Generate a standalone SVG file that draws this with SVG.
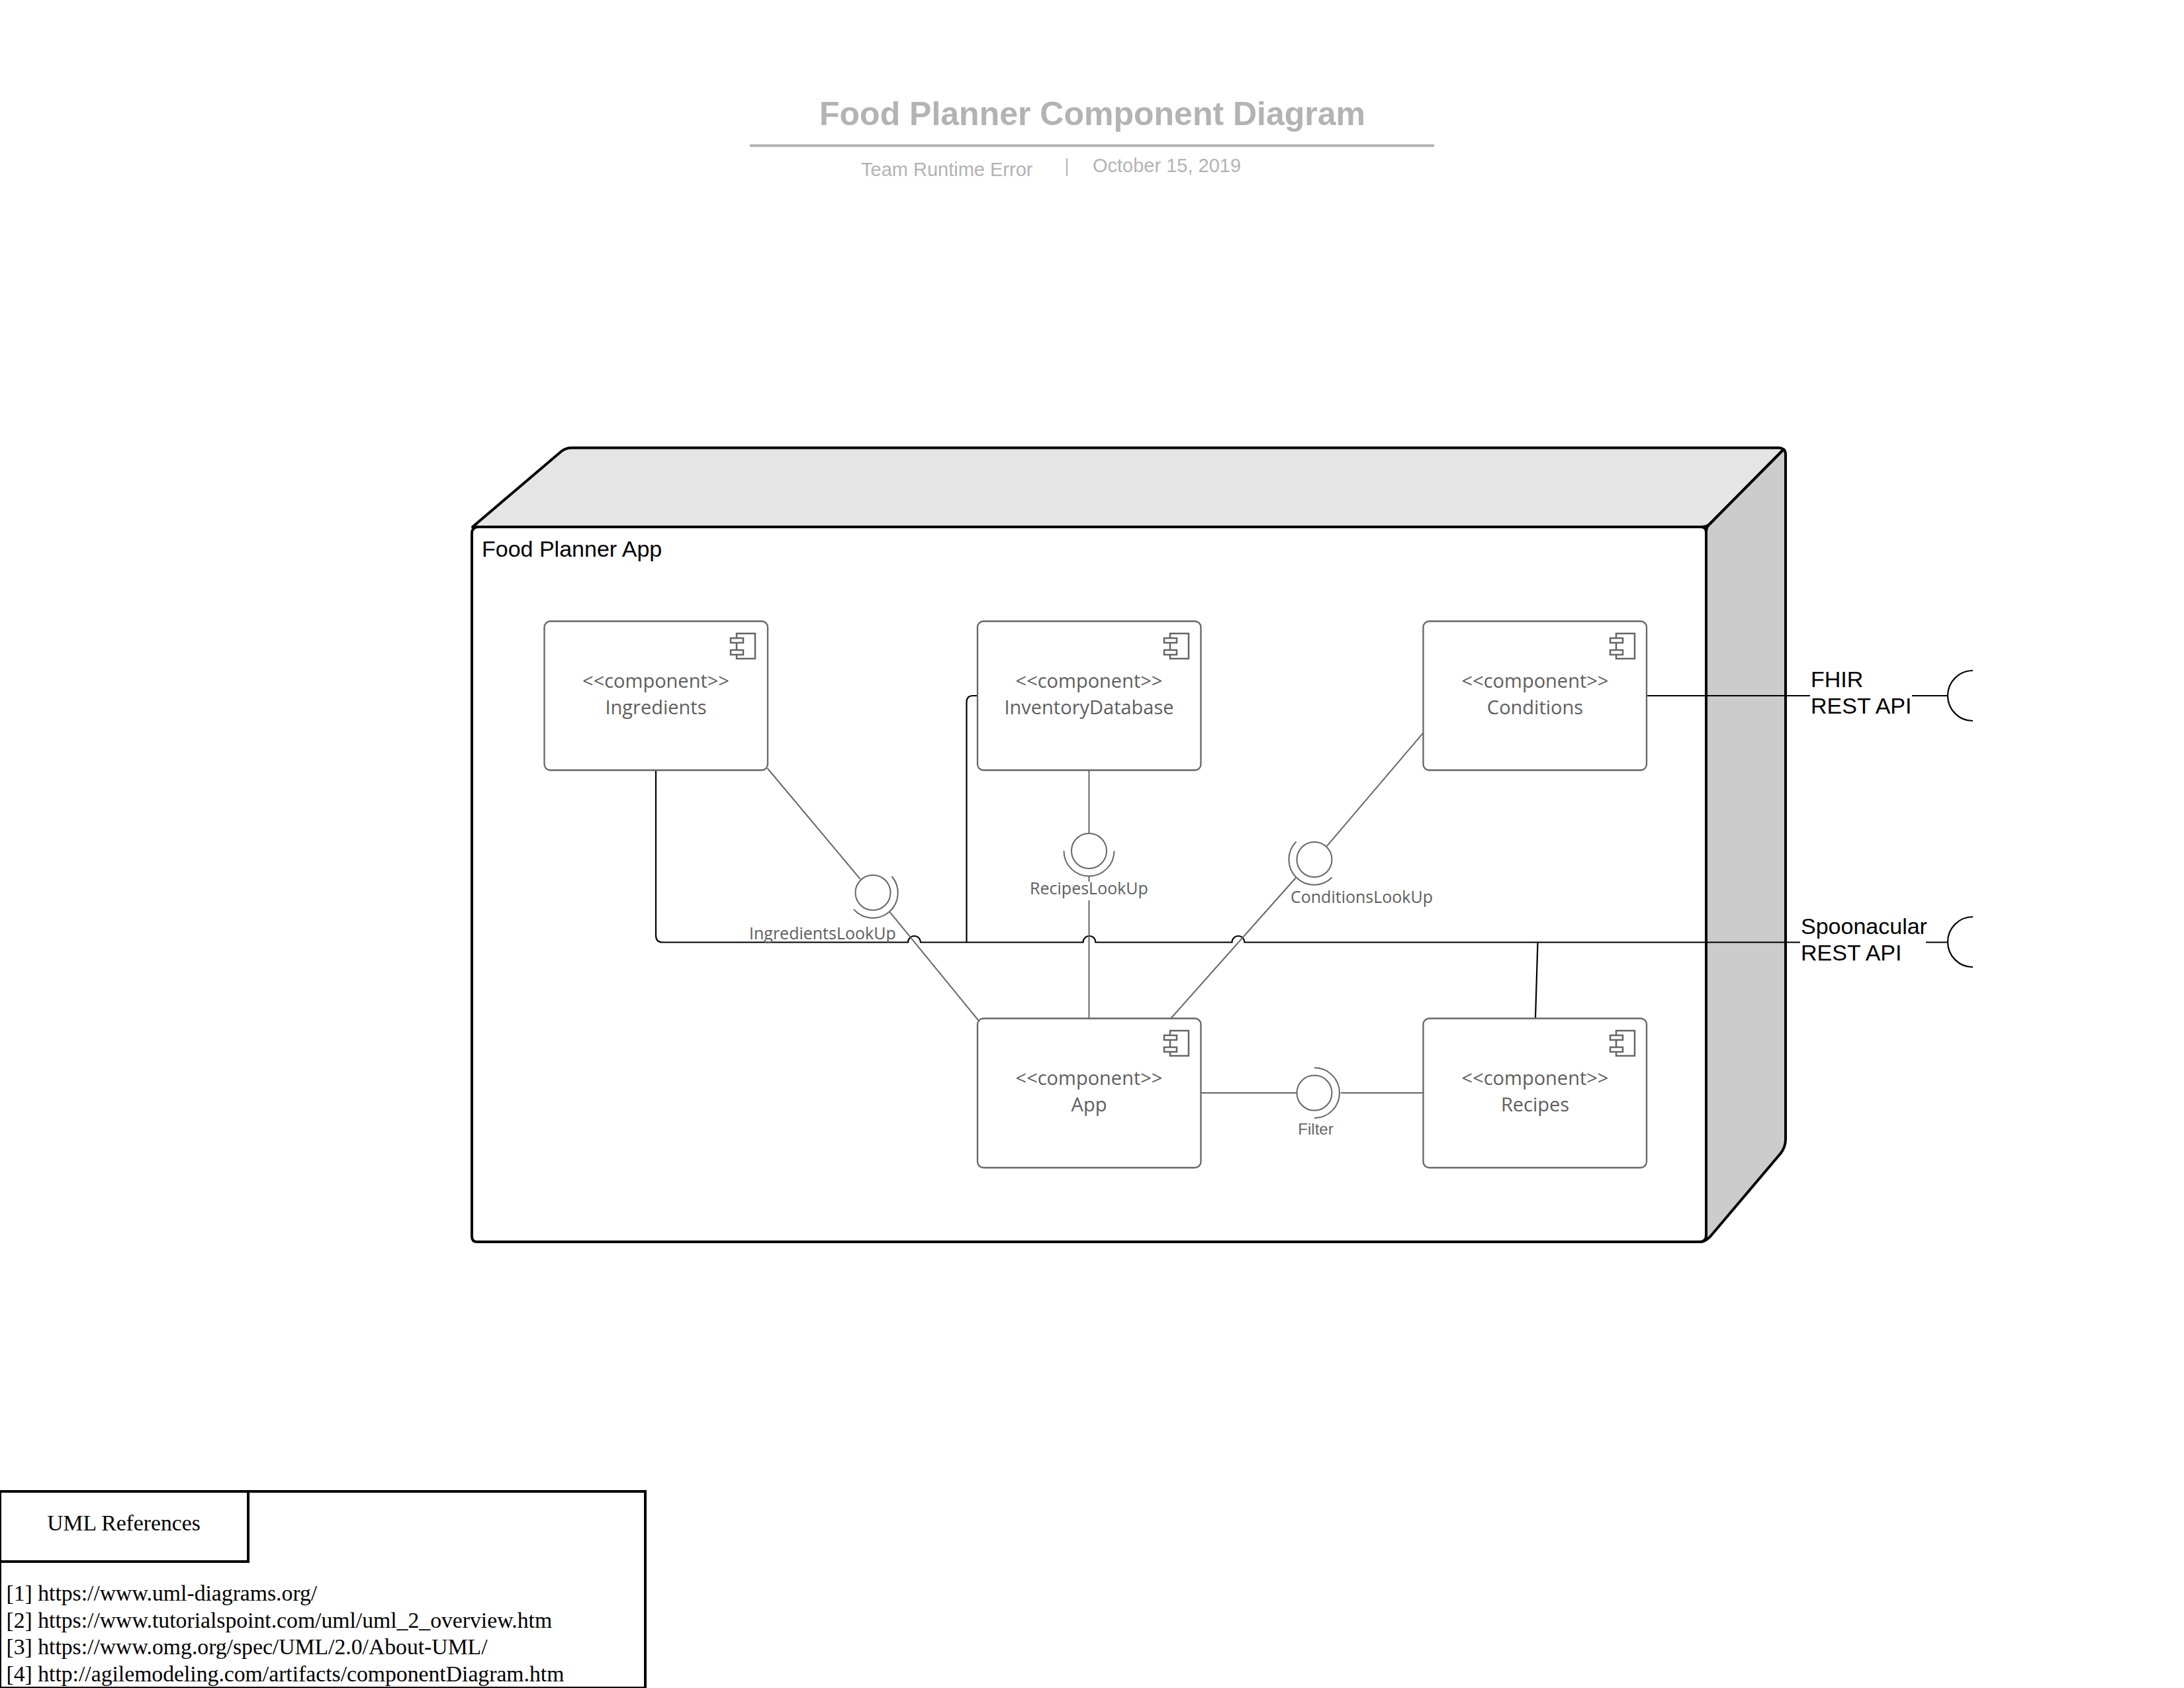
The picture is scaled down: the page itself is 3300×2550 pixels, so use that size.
<svg xmlns="http://www.w3.org/2000/svg" width="3300" height="2550" viewBox="0 0 3300 2550">
<style>
.title{font:bold 50px "Liberation Sans",Arial,sans-serif;fill:#b3b3b3}
.sub{font:29px "Liberation Sans",Arial,sans-serif;fill:#b3b3b3}
.rule{stroke:#b3b3b3;fill:none}
.box3d{stroke:#000;stroke-width:4;stroke-linejoin:round}
.label{font:34px "Liberation Sans",Arial,sans-serif;fill:#000}
.comp{fill:#fff;stroke:#666;stroke-width:2.3}
.icon{fill:#fff;stroke:#666;stroke-width:2.5}
.ct{font:29px "Open Sans",sans-serif;fill:#5e5e5e;text-anchor:middle}
.il{font:25px "Open Sans",sans-serif;fill:#5e5e5e}
.ilf{font:24px "Liberation Sans",Arial,sans-serif;fill:#666;text-anchor:middle}
.ball{fill:#fff;stroke:#666;stroke-width:2}
.sock{fill:none;stroke:#666;stroke-width:2}
.g{fill:none;stroke:#666;stroke-width:2}
.k{fill:none;stroke:#000;stroke-width:2.200}
.ref{font:33.700px "Liberation Serif","Times New Roman",serif;fill:#000}
</style>
<defs>
<g id="compicon">
<rect class="icon" x="-28" y="0" width="28" height="38"/>
<rect class="icon" x="-37" y="7" width="19" height="7"/>
<rect class="icon" x="-37" y="25" width="19" height="7"/>
</g>
</defs>
<g id="diagram" transform="translate(0 1)">
<g id="title">
<text class="title" x="1238" y="188">Food Planner Component Diagram</text>
<line class="rule" x1="1133" y1="219" x2="2167" y2="219" stroke-width="4"/>
<text class="sub" x="1301" y="265">Team Runtime Error</text>
<line class="rule" x1="1612" y1="238" x2="1612" y2="265" stroke-width="2"/>
<text class="sub" x="1651" y="258.500">October 15, 2019</text>
</g>

<g id="node-food-planner-app">
<path class="box3d" fill="#e5e5e5" d="M714 795 L848 681 Q855 675.500 864 675.500 L2688 675.500 Q2692 675.500 2695 678 L2583 791 Q2578 795 2570 795 Z"/>
<path class="box3d" fill="#cccccc" d="M2695 678 Q2698 680 2698 686 L2698 1720 Q2698 1732 2690 1742 L2585 1866 Q2580 1872 2572 1875 L2578 1800 L2578 803 Q2578 795 2583 791 Z"/>
<path class="box3d" fill="#fff" d="M723 795 L2570 795 Q2578 795 2578 803 L2578 1865 Q2578 1875 2568 1875 L721 1875 Q713 1875 713 1867 L713 805 Q713 795 723 795 Z"/>
<text class="label" x="728" y="840">Food Planner App</text>
</g>

<g id="connectors">
<path class="k" d="M991 1163 L991 1412 Q991 1422.500 1001 1422.500 L1372 1422.500 A9.500 9.500 0 0 1 1391 1422.500 L1636.500 1422.500 A9.500 9.500 0 0 1 1655.500 1422.500 L1861.500 1422.500 A9.500 9.500 0 0 1 1880.500 1422.500 L2720 1422.500"/>
<path class="k" d="M1476 1050 L1470 1050 Q1460.500 1050 1460.500 1060 L1460.500 1422.500"/>
<line class="k" x1="2323.500" y1="1422.500" x2="2320" y2="1537"/>
<line class="k" x1="2489" y1="1050" x2="2735" y2="1050"/>
<line class="k" x1="2889" y1="1050" x2="2943" y2="1050"/>
<line class="k" x1="2910" y1="1422.500" x2="2943" y2="1422.500"/>
<line class="g" x1="1159.500" y1="1159.500" x2="1299.700" y2="1326.800"/>
<line class="g" x1="1344.400" y1="1376.600" x2="1478" y2="1540"/>
<line class="g" x1="1645.500" y1="1163" x2="1645.500" y2="1257"/>
<line class="g" x1="1645.500" y1="1322" x2="1645.500" y2="1331"/>
<line class="g" x1="1645.500" y1="1359" x2="1645.500" y2="1537"/>
<line class="g" x1="2150" y1="1106.700" x2="2005" y2="1277"/>
<line class="g" x1="1958" y1="1325" x2="1770" y2="1536.500"/>
<line class="g" x1="1815" y1="1650" x2="1960" y2="1650"/>
<line class="g" x1="2026" y1="1650" x2="2150" y2="1650"/>
<path class="k" d="M2981 1012 A38 38 0 0 0 2981 1088"/>
<path class="k" d="M2981 1384 A38 38 0 0 0 2981 1460"/>
</g>

<g id="node-ingredients">
<rect class="comp" x="822.500" y="937.500" width="337.500" height="225" rx="9"/>
<use href="#compicon" x="1141" y="956"/>
<text class="ct" x="991" y="1038">&lt;&lt;component&gt;&gt;</text>
<text class="ct" x="991" y="1078">Ingredients</text>
</g>
<g id="node-inventory-database">
<rect class="comp" x="1477" y="937.500" width="337.500" height="225" rx="9"/>
<use href="#compicon" x="1796" y="956"/>
<text class="ct" x="1645.500" y="1038">&lt;&lt;component&gt;&gt;</text>
<text class="ct" x="1645.500" y="1078">InventoryDatabase</text>
</g>
<g id="node-conditions">
<rect class="comp" x="2150.500" y="937.500" width="337.500" height="225" rx="9"/>
<use href="#compicon" x="2470" y="956"/>
<text class="ct" x="2319.500" y="1038">&lt;&lt;component&gt;&gt;</text>
<text class="ct" x="2319.500" y="1078">Conditions</text>
</g>
<g id="node-app">
<rect class="comp" x="1477" y="1537.500" width="337.500" height="225.500" rx="9"/>
<use href="#compicon" x="1796" y="1556"/>
<text class="ct" x="1645.500" y="1638">&lt;&lt;component&gt;&gt;</text>
<text class="ct" x="1645.500" y="1677.500">App</text>
</g>
<g id="node-recipes">
<rect class="comp" x="2150.500" y="1537.500" width="337.500" height="225.500" rx="9"/>
<use href="#compicon" x="2470" y="1556"/>
<text class="ct" x="2319.500" y="1638">&lt;&lt;component&gt;&gt;</text>
<text class="ct" x="2319.500" y="1677.500">Recipes</text>
</g>

<g id="node-ingredients-lookup">
<circle class="ball" cx="1319" cy="1347.500" r="26.500"/>
<path class="sock" d="M1347.500 1323 A38 38 0 0 1 1290 1372.700"/>
<text class="il" x="1132" y="1418">IngredientsLookUp</text>
</g>
<g id="node-recipes-lookup">
<circle class="ball" cx="1645.500" cy="1284.500" r="26.500"/>
<path class="sock" d="M1607.500 1284.500 A38 38 0 0 0 1683.500 1284.500"/>
<text class="il" x="1645.500" y="1350" text-anchor="middle">RecipesLookUp</text>
</g>
<g id="node-conditions-lookup">
<circle class="ball" cx="1986" cy="1297.500" r="26.500"/>
<path class="sock" d="M1958.600 1270.500 A38 38 0 0 0 2012.600 1324.500"/>
<text class="il" x="1950" y="1363">ConditionsLookUp</text>
</g>
<g id="node-filter">
<circle class="ball" cx="1986" cy="1650" r="26.500"/>
<path class="sock" d="M1986 1612 A38 38 0 0 1 1986 1688"/>
<text class="ilf" x="1988" y="1713">Filter</text>
</g>

<g id="node-fhir">
<text class="label" x="2736" y="1036.500">FHIR</text>
<text class="label" x="2736" y="1077">REST API</text>
</g>
<g id="node-spoonacular">
<text class="label" x="2721" y="1409.500">Spoonacular</text>
<text class="label" x="2721" y="1450">REST API</text>
</g>

<g id="node-uml-references">
<rect x="0" y="2252" width="975" height="297" fill="#fff" stroke="#000" stroke-width="4"/>
<rect x="0" y="2252" width="375" height="106" fill="#fff" stroke="#000" stroke-width="4"/>
<text class="ref" x="187" y="2310.500" text-anchor="middle">UML References</text>
<text class="ref" x="9.500" y="2417">[1] https://www.uml-diagrams.org/</text>
<text class="ref" x="9.500" y="2457.500">[2] https://www.tutorialspoint.com/uml/uml_2_overview.htm</text>
<text class="ref" x="9.500" y="2498">[3] https://www.omg.org/spec/UML/2.0/About-UML/</text>
<text class="ref" x="9.500" y="2538.500">[4] http://agilemodeling.com/artifacts/componentDiagram.htm</text>
</g>
</g>
</svg>
